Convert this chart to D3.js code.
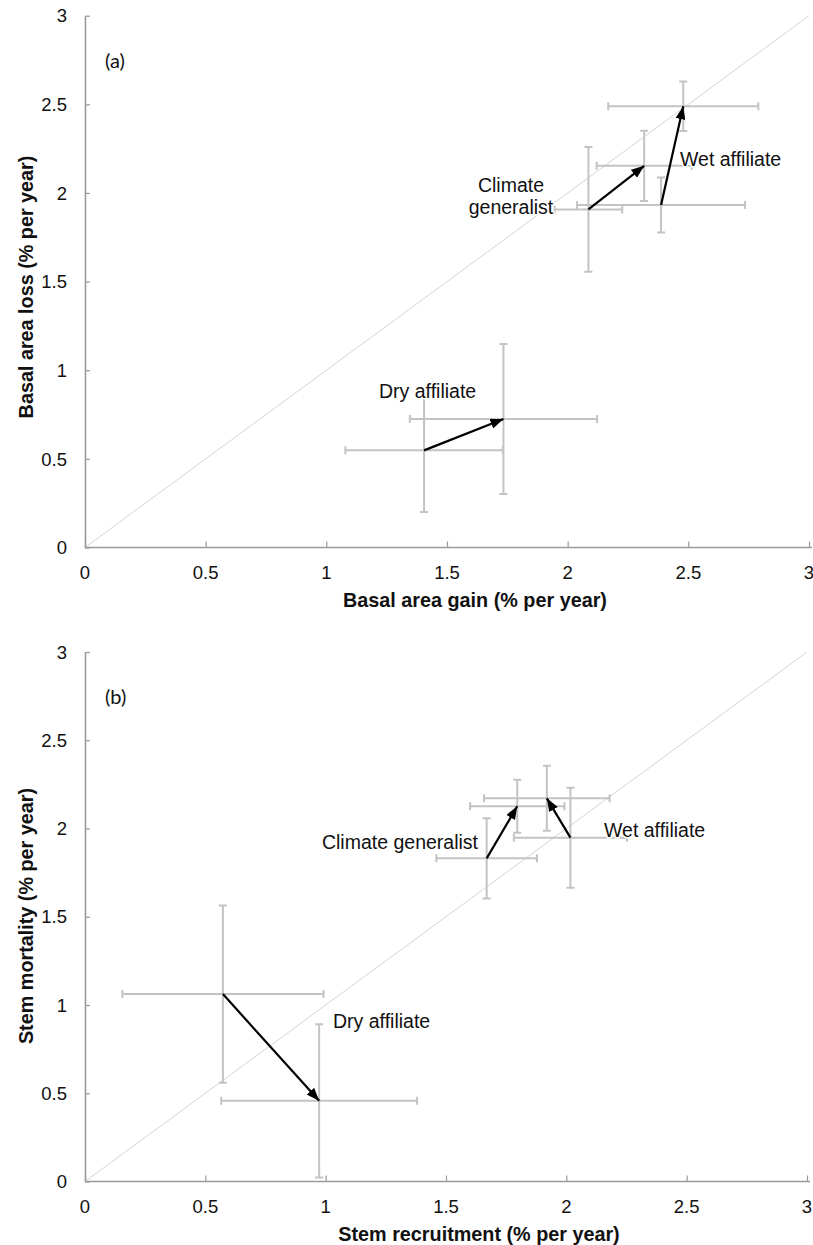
<!DOCTYPE html>
<html>
<head>
<meta charset="utf-8">
<script src="https://cdn.jsdelivr.net/npm/d3@7"></script>
<style>
  html, body { margin: 0; padding: 0; background: #ffffff; }
  svg { display: block; }
</style>
</head>
<body>
<svg id="chart" width="813" height="1245"></svg>
<script>
// ---------------- data ----------------
const groups = ["Dry affiliate", "Climate generalist", "Wet affiliate"];
const tickValues = [0, 0.5, 1, 1.5, 2, 2.5, 3];
const tickLabels = ["0", "0.5", "1", "1.5", "2", "2.5", "3"];

// Panel (a): basal area gain (x) vs basal area loss (y)
const aStartX    = [1.405, 2.086, 2.387];
const aStartXErr = [0.326, 0.140, 0.348];
const aStartY    = [0.548, 1.907, 1.932];
const aStartYErr = [0.348, 0.352, 0.155];
const aEndX      = [1.734, 2.317, 2.479];
const aEndXErr   = [0.388, 0.197, 0.311];
const aEndY      = [0.725, 2.153, 2.489];
const aEndYErr   = [0.423, 0.198, 0.140];

// Panel (b): stem recruitment (x) vs stem mortality (y)
const bStartX    = [0.573, 1.669, 2.017];
const bStartXErr = [0.418, 0.209, 0.235];
const bStartY    = [1.062, 1.831, 1.948];
const bStartYErr = [0.502, 0.227, 0.283];
const bEndX      = [0.973, 1.796, 1.919];
const bEndXErr   = [0.407, 0.196, 0.261];
const bEndY      = [0.457, 2.126, 2.171];
const bEndYErr   = [0.434, 0.150, 0.184];

const panelTags = ["(a)", "(b)"];
const xTitles = ["Basal area gain (% per year)", "Stem recruitment (% per year)"];
const yTitles = ["Basal area loss (% per year)", "Stem mortality (% per year)"];

// ---------------- drawing ----------------
const svg = d3.select("#chart");
const FONT = "'Liberation Sans', Arial, Helvetica, sans-serif";
const AXIS_COLOR = "#9a9a9a";
const ERR_COLOR = "#c3c3c3";

const defs = svg.append("defs");
defs.append("marker")
  .attr("id", "arrowhead")
  .attr("markerUnits", "userSpaceOnUse")
  .attr("viewBox", "0 0 13 10")
  .attr("markerWidth", 13)
  .attr("markerHeight", 10)
  .attr("refX", 13)
  .attr("refY", 5)
  .attr("orient", "auto")
  .append("path")
  .attr("d", "M0,0 L13,5 L0,10 Z")
  .attr("fill", "#000");

function buildRows(sx, sxe, sy, sye, ex, exe, ey, eye) {
  return groups.map((g, i) => ({
    group: g,
    start: { x: sx[i], xe: sxe[i], y: sy[i], ye: sye[i] },
    end:   { x: ex[i], xe: exe[i], y: ey[i], ye: eye[i] }
  }));
}

function drawPanel(cfg) {
  const x = d3.scaleLinear().domain([0, 3]).range([cfg.x0, cfg.x1]);
  const y = d3.scaleLinear().domain([0, 3]).range([cfg.y0, cfg.y1]);
  const g = svg.append("g");

  // 1:1 reference line
  g.append("line")
    .attr("x1", x(0)).attr("y1", y(0))
    .attr("x2", x(3)).attr("y2", y(3))
    .attr("stroke", "#cfcfcf").attr("stroke-width", 0.9);

  // axes (ticks inside, Excel style)
  const xAxis = d3.axisTop(x).tickValues(tickValues).tickFormat("").tickSize(6).tickSizeOuter(0);
  const gx = g.append("g").attr("transform", `translate(0,${y(0)})`).call(xAxis);
  const yAxis = d3.axisRight(y).tickValues(tickValues).tickFormat("").tickSize(5).tickSizeOuter(0);
  const gy = g.append("g").attr("transform", `translate(${x(0)},0)`).call(yAxis);
  [gx, gy].forEach(ax => {
    ax.select(".domain").attr("stroke", AXIS_COLOR).attr("stroke-width", 1.6);
    ax.selectAll(".tick line").attr("stroke", AXIS_COLOR).attr("stroke-width", 1.2);
  });
  gx.select(".domain").attr("d", `M${x(0)},0H${cfg.axisEnd}`);

  // tick labels
  g.selectAll(".xlab").data(tickValues).enter().append("text")
    .attr("x", d => x(d)).attr("y", y(0) + 31)
    .attr("text-anchor", "middle")
    .attr("font-family", FONT).attr("font-size", 18.5).attr("fill", "#111")
    .text((d, i) => tickLabels[i]);
  g.selectAll(".ylab").data(tickValues).enter().append("text")
    .attr("x", x(0) - 18).attr("y", d => y(d))
    .attr("dy", "0.36em")
    .attr("text-anchor", "end")
    .attr("font-family", FONT).attr("font-size", 18.5).attr("fill", "#111")
    .text((d, i) => tickLabels[i]);

  // axis titles
  g.append("text")
    .attr("x", cfg.xTitleX).attr("y", y(0) + 59)
    .attr("text-anchor", "middle")
    .attr("font-family", FONT).attr("font-size", 19.8).attr("font-weight", "bold").attr("fill", "#111")
    .text(cfg.xTitle);
  g.append("text")
    .attr("transform", `translate(33,${cfg.yTitleY}) rotate(-90)`)
    .attr("text-anchor", "middle")
    .attr("font-family", FONT).attr("font-size", 19.8).attr("font-weight", "bold").attr("fill", "#111")
    .text(cfg.yTitle);

  // panel tag
  g.append("text")
    .attr("x", x(0) + 20).attr("y", y(3) + 52)
    .attr("font-family", "Lato, 'Open Sans', sans-serif").attr("font-size", 20).attr("fill", "#111")
    .text(cfg.tag);

  // error bars
  const cap = 4;
  const pts = [];
  cfg.rows.forEach(r => { pts.push(r.start); pts.push(r.end); });
  const eb = g.append("g").attr("stroke", ERR_COLOR).attr("stroke-width", 2).attr("fill", "none");
  pts.forEach(p => {
    const cx = x(p.x), cy = y(p.y);
    const xl = x(p.x - p.xe), xr = x(p.x + p.xe);
    const yt = y(p.y + p.ye), yb = y(p.y - p.ye);
    eb.append("path").attr("d",
      `M${xl},${cy}H${xr}` +
      `M${xl},${cy - cap}V${cy + cap}` +
      `M${xr},${cy - cap}V${cy + cap}` +
      `M${cx},${yt}V${yb}` +
      `M${cx - cap},${yt}H${cx + cap}` +
      `M${cx - cap},${yb}H${cx + cap}`);
  });

  // arrows
  g.selectAll(".arrow").data(cfg.rows).enter().append("line")
    .attr("x1", d => x(d.start.x)).attr("y1", d => y(d.start.y))
    .attr("x2", d => x(d.end.x)).attr("y2", d => y(d.end.y))
    .attr("stroke", "#000").attr("stroke-width", 2.2)
    .attr("marker-end", "url(#arrowhead)");

  // labels
  cfg.labels.forEach(l => {
    const t = g.append("text")
      .attr("x", l.x).attr("y", l.y)
      .attr("text-anchor", l.anchor || "start")
      .attr("font-family", FONT).attr("font-size", 19.5).attr("fill", "#111")
      .attr("stroke", "#fff").attr("stroke-width", 3).attr("paint-order", "stroke");
    l.lines.forEach((s, i) => {
      t.append("tspan").attr("x", l.x).attr("dy", i === 0 ? 0 : 22).text(s);
    });
  });
}

drawPanel({
  x0: 85, x1: 809, y0: 547.5, y1: 15.7, axisEnd: 812,
  rows: buildRows(aStartX, aStartXErr, aStartY, aStartYErr, aEndX, aEndXErr, aEndY, aEndYErr),
  tag: panelTags[0], xTitle: xTitles[0], yTitle: yTitles[0],
  xTitleX: 475, yTitleY: 287,
  labels: [
    { lines: ["Dry affiliate"], x: 379, y: 398 },
    { lines: ["Climate", "generalist"], x: 511, y: 192, anchor: "middle" },
    { lines: ["Wet affiliate"], x: 680, y: 166 }
  ]
});

drawPanel({
  x0: 85, x1: 807, y0: 1181.5, y1: 652, axisEnd: 810,
  rows: buildRows(bStartX, bStartXErr, bStartY, bStartYErr, bEndX, bEndXErr, bEndY, bEndYErr),
  tag: panelTags[1], xTitle: xTitles[1], yTitle: yTitles[1],
  xTitleX: 479, yTitleY: 916,
  labels: [
    { lines: ["Dry affiliate"], x: 333, y: 1028 },
    { lines: ["Climate generalist"], x: 478, y: 849, anchor: "end" },
    { lines: ["Wet affiliate"], x: 604, y: 837 }
  ]
});
</script>
</body>
</html>
